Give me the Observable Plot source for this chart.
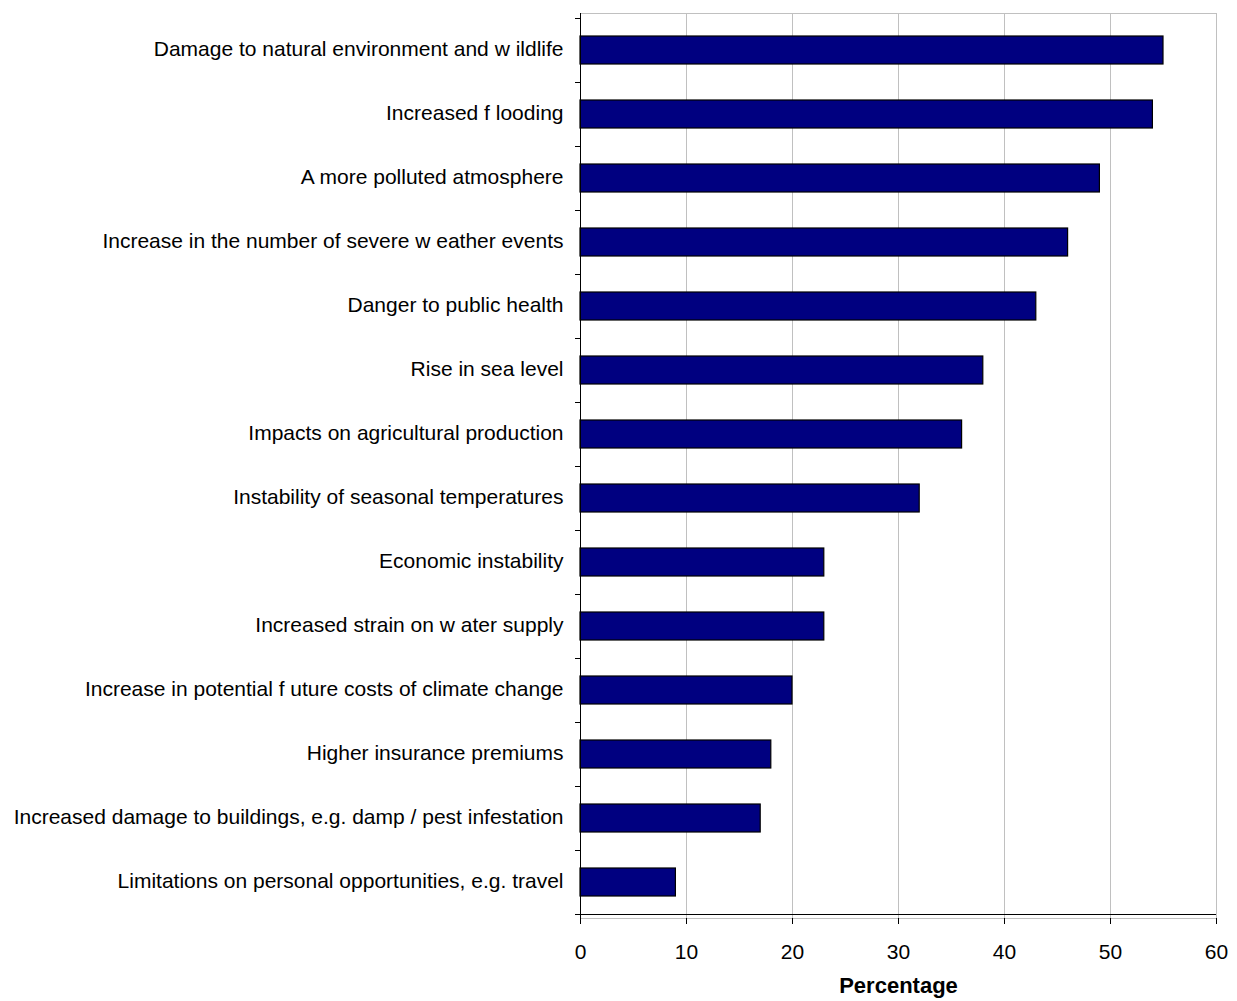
<!DOCTYPE html>
<html><head><meta charset="utf-8">
<script src="https://cdn.jsdelivr.net/npm/d3@7"></script>
<script src="https://cdn.jsdelivr.net/npm/@observablehq/plot@0.6"></script>
<style>body{margin:0;background:#fff}</style>
</head><body><div id="chart"></div>
<script>
const categories = [
  "Damage to natural environment and w ildlife",
  "Increased f looding",
  "A more polluted atmosphere",
  "Increase in the number of severe w eather events",
  "Danger to public health",
  "Rise in sea level",
  "Impacts on agricultural production",
  "Instability of seasonal temperatures",
  "Economic instability",
  "Increased strain on w ater supply",
  "Increase in potential f uture costs of climate change",
  "Higher insurance premiums",
  "Increased damage to buildings, e.g. damp / pest infestation",
  "Limitations on personal opportunities, e.g. travel"
];
const values = [55, 54, 49, 46, 43, 38, 36, 32, 23, 23, 20, 18, 17, 9];
const xTicks = [0, 10, 20, 30, 40, 50, 60];
const xLabel = "Percentage";

const data = categories.map((c, i) => ({category: c, value: values[i]}));

const plot = Plot.plot({
  width: 1237,
  height: 1001,
  marginLeft: 580,
  marginRight: 21,
  marginTop: 13,
  marginBottom: 83,
  style: {fontFamily: "'Liberation Sans', Arial, sans-serif", fontSize: "21px", color: "#000", background: "#fff", overflow: "visible"},
  x: {domain: [0, 60], ticks: xTicks},
  y: {domain: categories, padding: 0},
  marks: [
    Plot.gridX(xTicks.filter(t => t > 0), {stroke: "#c0c0c0", strokeOpacity: 1}),
    Plot.frame({stroke: "#c0c0c0"}),
    Plot.barX(data, {x: "value", y: "category", fill: "#000080", stroke: "#000", strokeWidth: 1.2, insetTop: 18, insetBottom: 18}),
    Plot.axisY({tickSize: 0, tickPadding: 17, label: null, fontSize: 21, dy: -1}),
    Plot.axisX({ticks: xTicks, tickSize: 6, tickPadding: 20, label: null, fontSize: 21, stroke: "#000"}),
    Plot.ruleX([0], {stroke: "#000"}),
    Plot.text([xLabel], {text: d => d, frameAnchor: "bottom", dy: 74, fontWeight: "bold", fontSize: 22})
  ]
});

// axis lines and band-boundary ticks from the plot's own scales
const ys = plot.scale("y");
const xs = plot.scale("x");
const x0 = xs.apply(0);
const x1 = xs.apply(60);
const yBottom = ys.apply(categories[categories.length - 1]) + ys.bandwidth;
const bounds = categories.map(c => ys.apply(c)).concat([yBottom]);
const g = d3.select(plot).append("g").attr("stroke", "#000").attr("stroke-width", 1).attr("shape-rendering", "crispEdges");
g.append("line").attr("x1", x0).attr("x2", x1).attr("y1", yBottom + 0.5).attr("y2", yBottom + 0.5);
g.selectAll(".bt").data(bounds).join("line")
  .attr("x1", x0 - 5).attr("x2", x0).attr("y1", d => d + 0.5).attr("y2", d => d + 0.5);

document.getElementById("chart").appendChild(plot);
</script>
</body></html>
